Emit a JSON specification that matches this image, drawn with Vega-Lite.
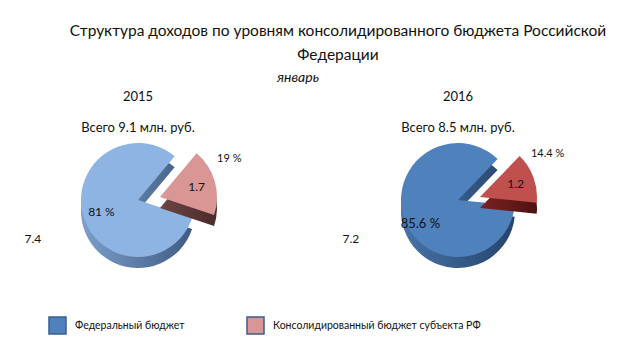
{
  "$schema": "https://vega.github.io/schema/vega-lite/v6.json",
  "padding": {"left": 5, "right": 5, "top": 23, "bottom": 5},
  "background": "white",
  "title": {
    "text": ["Структура доходов по уровням консолидированного бюджета Российской", "Федерации"],
    "fontSize": 15.5, "fontWeight": "normal", "lineHeight": 24, "dx": 40, "anchor": "middle", "offset": 8, "color": "#111"
  },
  "datasets": {
    "d2015": [
      {"key": "sub2015", "budget": "Консолидированный бюджет субъекта РФ", "pct": 19, "value": 1.7, "pctLabel": "19 %", "valLabel": "1.7", "order": 1},
      {"key": "fed2015", "budget": "Федеральный бюджет", "pct": 81, "value": 7.4, "pctLabel": "81 %", "valLabel": "7.4", "order": 2}
    ],
    "d2016": [
      {"key": "sub2016", "budget": "Консолидированный бюджет субъекта РФ", "pct": 14.4, "value": 1.2, "pctLabel": "14.4 %", "valLabel": "1.2", "order": 1},
      {"key": "fed2016", "budget": "Федеральный бюджет", "pct": 85.6, "value": 7.2, "pctLabel": "85.6 %", "valLabel": "7.2", "order": 2}
    ]
  },
  "vconcat": [
    {
      "title": {"text": "январь", "anchor": "middle", "fontStyle": "italic", "fontSize": 14, "fontWeight": "normal", "offset": 6, "color": "#111"},
      "spacing": 54,
      "hconcat": [
        {
          "width": 266, "height": 100,
          "title": {"text": "2015", "subtitle": "Всего  9.1 млн. руб.", "fontSize": 13, "fontWeight": "normal", "subtitleFontSize": 13, "subtitlePadding": 18, "offset": 8, "color": "#111", "subtitleColor": "#111"},
          "data": {"name": "d2015"},
          "transform": [{"stack": "pct", "groupby": [], "sort": [{"field": "order", "order": "ascending"}], "as": ["p0", "p1"]}],
          "layer": [
            {
              "transform": [{"filter": "datum.order == 2"}],
              "mark": {"type": "arc", "outerRadius": 57, "yOffset": 11, "fill": {"gradient": "linear", "x1": 0, "y1": 0, "x2": 1, "y2": 0, "stops": [{"offset": 0, "color": "#7C9FCB"}, {"offset": 1, "color": "#3F5B82"}]}},
              "encoding": {"theta": {"field": "p0", "type": "quantitative", "scale": {"domain": [0, 100], "range": [0.698, 6.981]}}, "theta2": {"field": "p1"}}
            },
            {
              "transform": [{"filter": "datum.order == 2"}],
              "mark": {"type": "arc", "outerRadius": 57},
              "encoding": {
                "theta": {"field": "p0", "type": "quantitative", "scale": {"domain": [0, 100], "range": [0.698, 6.981]}}, "theta2": {"field": "p1"},
                "color": {"field": "key", "type": "nominal", "scale": {"domain": ["fed2016", "sub2015", "fed2015", "sub2016"], "range": ["#4F81BD", "#D99694", "#8EB4E3", "#C0504D"]}, "legend": {"orient": "none", "legendX": 43, "legendY": 166, "direction": "horizontal", "values": ["fed2016", "sub2015"], "labelExpr": "datum.value == 'fed2016' ? 'Федеральный бюджет' : 'Консолидированный бюджет субъекта РФ'"}}
              }
            },
            {
              "transform": [{"filter": "datum.order == 1"}],
              "mark": {"type": "arc", "outerRadius": 57, "xOffset": 22, "yOffset": 8, "fill": {"gradient": "linear", "x1": 0, "y1": 0, "x2": 1, "y2": 0, "stops": [{"offset": 0, "color": "#6B4543"}, {"offset": 1, "color": "#4A2B2A"}]}},
              "encoding": {"theta": {"field": "p0", "type": "quantitative", "scale": {"domain": [0, 100], "range": [0.698, 6.981]}}, "theta2": {"field": "p1"}}
            },
            {
              "transform": [{"filter": "datum.order == 1"}],
              "mark": {"type": "arc", "outerRadius": 57, "xOffset": 22, "yOffset": -3},
              "encoding": {
                "theta": {"field": "p0", "type": "quantitative", "scale": {"domain": [0, 100], "range": [0.698, 6.981]}}, "theta2": {"field": "p1"},
                "color": {"field": "key", "type": "nominal", "scale": {"domain": ["fed2016", "sub2015", "fed2015", "sub2016"], "range": ["#4F81BD", "#D99694", "#8EB4E3", "#C0504D"]}, "legend": {"orient": "none", "legendX": 43, "legendY": 166, "direction": "horizontal", "values": ["fed2016", "sub2015"], "labelExpr": "datum.value == 'fed2016' ? 'Федеральный бюджет' : 'Консолидированный бюджет субъекта РФ'"}}
              }
            },
            {
              "mark": {"type": "text", "radius": 38, "dy": 2, "fontSize": 12, "color": "#111"},
              "encoding": {"theta": {"field": "pct", "type": "quantitative", "stack": true, "scale": {"domain": [0, 100], "range": [0.698, 6.981]}}, "order": {"field": "order"}, "text": {"condition": {"test": "datum.order == 2", "field": "pctLabel"}, "value": ""}}
            },
            {
              "mark": {"type": "text", "radius": 78, "dy": 18, "dx": -30, "fontSize": 12, "color": "#111"},
              "encoding": {"theta": {"field": "pct", "type": "quantitative", "stack": true, "scale": {"domain": [0, 100], "range": [0.698, 6.981]}}, "order": {"field": "order"}, "text": {"condition": {"test": "datum.order == 2", "field": "valLabel"}, "value": ""}}
            },
            {
              "mark": {"type": "text", "radius": 38, "xOffset": 22, "yOffset": -3, "fontSize": 12, "color": "#111"},
              "encoding": {"theta": {"field": "pct", "type": "quantitative", "stack": true, "scale": {"domain": [0, 100], "range": [0.698, 6.981]}}, "order": {"field": "order"}, "text": {"condition": {"test": "datum.order == 1", "field": "valLabel"}, "value": ""}}
            },
            {
              "mark": {"type": "text", "radius": 72, "xOffset": 22, "yOffset": -3, "dy": -18, "fontSize": 11, "color": "#111"},
              "encoding": {"theta": {"field": "pct", "type": "quantitative", "stack": true, "scale": {"domain": [0, 100], "range": [0.698, 6.981]}}, "order": {"field": "order"}, "text": {"condition": {"test": "datum.order == 1", "field": "pctLabel"}, "value": ""}}
            }
          ]
        },
        {
          "width": 266, "height": 100,
          "title": {"text": "2016", "subtitle": "Всего  8.5 млн. руб.", "fontSize": 13, "fontWeight": "normal", "subtitleFontSize": 13, "subtitlePadding": 18, "offset": 8, "color": "#111", "subtitleColor": "#111"},
          "data": {"name": "d2016"},
          "transform": [{"stack": "pct", "groupby": [], "sort": [{"field": "order", "order": "ascending"}], "as": ["p0", "p1"]}],
          "layer": [
            {
              "transform": [{"filter": "datum.order == 2"}],
              "mark": {"type": "arc", "outerRadius": 57, "yOffset": 11, "fill": {"gradient": "linear", "x1": 0, "y1": 0, "x2": 1, "y2": 0, "stops": [{"offset": 0, "color": "#4773A8"}, {"offset": 1, "color": "#26446B"}]}},
              "encoding": {"theta": {"field": "p0", "type": "quantitative", "scale": {"domain": [0, 100], "range": [0.768, 7.051]}}, "theta2": {"field": "p1"}}
            },
            {
              "transform": [{"filter": "datum.order == 2"}],
              "mark": {"type": "arc", "outerRadius": 57},
              "encoding": {
                "theta": {"field": "p0", "type": "quantitative", "scale": {"domain": [0, 100], "range": [0.768, 7.051]}}, "theta2": {"field": "p1"},
                "color": {"field": "key", "type": "nominal", "scale": {"domain": ["fed2016", "sub2015", "fed2015", "sub2016"], "range": ["#4F81BD", "#D99694", "#8EB4E3", "#C0504D"]}, "legend": {"orient": "none", "legendX": 43, "legendY": 166, "direction": "horizontal", "values": ["fed2016", "sub2015"], "labelExpr": "datum.value == 'fed2016' ? 'Федеральный бюджет' : 'Консолидированный бюджет субъекта РФ'"}}
              }
            },
            {
              "transform": [{"filter": "datum.order == 1"}],
              "mark": {"type": "arc", "outerRadius": 57, "xOffset": 22, "yOffset": 8, "fill": {"gradient": "linear", "x1": 0, "y1": 0, "x2": 1, "y2": 0, "stops": [{"offset": 0, "color": "#7A2321"}, {"offset": 1, "color": "#4E1211"}]}},
              "encoding": {"theta": {"field": "p0", "type": "quantitative", "scale": {"domain": [0, 100], "range": [0.768, 7.051]}}, "theta2": {"field": "p1"}}
            },
            {
              "transform": [{"filter": "datum.order == 1"}],
              "mark": {"type": "arc", "outerRadius": 57, "xOffset": 22, "yOffset": -3},
              "encoding": {
                "theta": {"field": "p0", "type": "quantitative", "scale": {"domain": [0, 100], "range": [0.768, 7.051]}}, "theta2": {"field": "p1"},
                "color": {"field": "key", "type": "nominal", "scale": {"domain": ["fed2016", "sub2015", "fed2015", "sub2016"], "range": ["#4F81BD", "#D99694", "#8EB4E3", "#C0504D"]}, "legend": {"orient": "none", "legendX": 43, "legendY": 166, "direction": "horizontal", "values": ["fed2016", "sub2015"], "labelExpr": "datum.value == 'fed2016' ? 'Федеральный бюджет' : 'Консолидированный бюджет субъекта РФ'"}}
              }
            },
            {
              "mark": {"type": "text", "radius": 40, "dy": 10, "fontSize": 13, "color": "#111"},
              "encoding": {"theta": {"field": "pct", "type": "quantitative", "stack": true, "scale": {"domain": [0, 100], "range": [0.768, 7.051]}}, "order": {"field": "order"}, "text": {"condition": {"test": "datum.order == 2", "field": "pctLabel"}, "value": ""}}
            },
            {
              "mark": {"type": "text", "radius": 80, "dy": 12, "dx": -32, "fontSize": 12, "color": "#111"},
              "encoding": {"theta": {"field": "pct", "type": "quantitative", "stack": true, "scale": {"domain": [0, 100], "range": [0.768, 7.051]}}, "order": {"field": "order"}, "text": {"condition": {"test": "datum.order == 2", "field": "valLabel"}, "value": ""}}
            },
            {
              "mark": {"type": "text", "radius": 38, "xOffset": 22, "yOffset": -3, "fontSize": 12, "color": "#111"},
              "encoding": {"theta": {"field": "pct", "type": "quantitative", "stack": true, "scale": {"domain": [0, 100], "range": [0.768, 7.051]}}, "order": {"field": "order"}, "text": {"condition": {"test": "datum.order == 1", "field": "valLabel"}, "value": ""}}
            },
            {
              "mark": {"type": "text", "radius": 72, "xOffset": 22, "yOffset": -3, "dy": -18, "fontSize": 11, "color": "#111"},
              "encoding": {"theta": {"field": "pct", "type": "quantitative", "stack": true, "scale": {"domain": [0, 100], "range": [0.768, 7.051]}}, "order": {"field": "order"}, "text": {"condition": {"test": "datum.order == 1", "field": "pctLabel"}, "value": ""}}
            }
          ]
        }
      ]
    }
  ],
  "resolve": {"scale": {"color": "shared"}},
  "config": {
    "font": "Lato",
    "view": {"stroke": null},
    "legend": {
      "title": null,
      "symbolType": "square", "symbolSize": 289, "symbolStrokeColor": "#3B5E8C", "symbolStrokeWidth": 1.5,
      "labelFontSize": 10.5, "labelColor": "#111", "columnPadding": 59, "labelOffset": 8, "labelLimit": 300
    }
  },
  "encoding": {}
}
